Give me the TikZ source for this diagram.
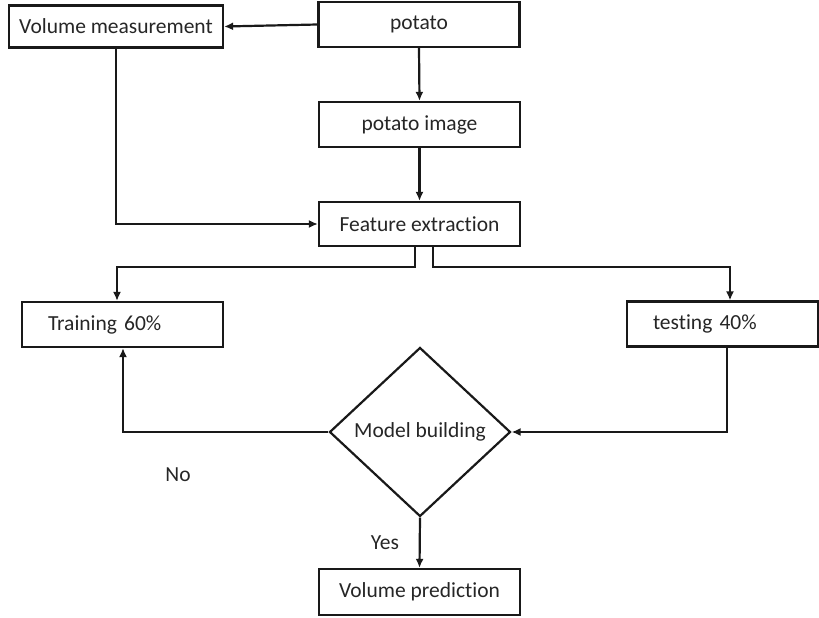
\documentclass[tikz,border=0pt]{standalone}
\usepackage{fontspec}
\setmainfont[Ligatures=NoCommon]{Carlito}
\usetikzlibrary{shapes.geometric,arrows.meta}
\begin{document}
\begin{tikzpicture}[x=1pt,y=-1pt,
  box/.style={draw=black!90,line width=2.2pt,inner sep=0pt,fill=white,text=black!85,
    font=\fontsize{21.5}{25}\selectfont},
  lbl/.style={text=black!85,font=\fontsize{21.5}{25}\selectfont,inner sep=0pt},
  conn/.style={draw=black!90,line width=2.2pt,-{Latex[length=9pt,width=8pt]}}]
\useasboundingbox (0,0) rectangle (819,618);
\node[box,minimum width=214pt,minimum height=42pt] (vm) at (116,26.5) {Volume measurement};
\node[box,minimum width=201pt,minimum height=45pt] (potato) at (419,24.5) {potato};
\node[box,minimum width=201pt,minimum height=45pt] (img) at (419.5,124.5) {potato image};
\node[box,minimum width=201pt,minimum height=44pt] (fe) at (419.5,224) {Feature extraction};
\node[box,minimum width=201pt,minimum height=45pt,text width=201pt,align=left] (train) at (122.5,324.5) {\hspace*{26pt}Training 60\%};
\node[box,minimum width=191pt,minimum height=45pt,text width=191pt,align=left] (test) at (722.5,324) {\hspace*{26pt}testing 40\%};
\node[box,diamond,minimum width=181pt,minimum height=169pt] (model) at (420,432) {Model building};
\node[box,minimum width=201pt,minimum height=46pt] (pred) at (419.5,592) {Volume prediction};
\node[lbl] (no) at (178,475) {No};
\node[lbl] (yes) at (385,543) {Yes};
\coordinate (j1) at (415,267);
\coordinate (j2) at (433,267);
\draw[conn] (potato.west) -- (vm.east);
\draw[conn] (potato.south) -- (img.north);
\draw[conn] (img.south) -- (fe.north);
\draw[conn] (vm.south) |- (fe.west);
\draw[conn] (fe.south -| j1) -- (j1) -| ([xshift=-5.5pt]train.north);
\draw[conn] (fe.south -| j2) -- (j2) -| ([xshift=7.5pt]test.north);
\draw[conn] ([xshift=4.5pt]test.south) |- (model.east);
\draw[conn] (model.west) -| ([xshift=0.5pt]train.south);
\draw[conn] (model.south) -- (pred.north);
\end{tikzpicture}
\end{document}
